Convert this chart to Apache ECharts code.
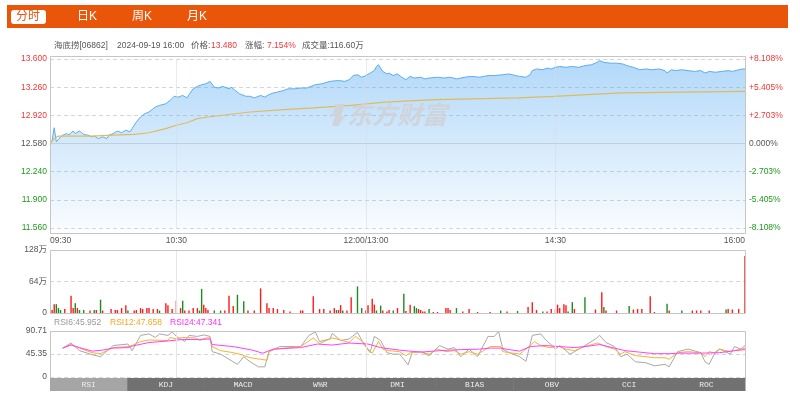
<!DOCTYPE html>
<html><head><meta charset="utf-8">
<script src="https://cdn.jsdelivr.net/npm/echarts@6/dist/echarts.min.js"></script>
<style>html,body{margin:0;padding:0;background:#fff}#c{width:800px;height:400px}</style>
</head><body><div id="c"></div>
<script>
// ---------- data ----------
const stockName = '海底捞';
const stockCode = '06862';
const quoteTime = '2024-09-19 16:00';
const lastPrice = '13.480';
const changePct = '7.154%';
const lastVolume = '116.60万';
const prevClose = 12.58;
const periodTabs = ['分时', '日K', '周K', '月K'];
const indicatorTabs = ['RSI', 'KDJ', 'MACD', 'W%R', 'DMI', 'BIAS', 'OBV', 'CCI', 'ROC'];
const timeTickMinutes = [0, 60, 150, 240, 330];
const timeTickLabels = ['09:30', '10:30', '12:00/13:00', '14:30', '16:00'];
const priceMin = 11.56, priceMax = 13.60, priceStep = 0.34;
const volMax = 128, volStep = 64;
const rsiMax = 90.71, rsiStep = 45.355;
const rsiTickLabels = ['0', '45.35', '90.71'];
const rsiLegend = ['RSI6:45.952', 'RSI12:47.658', 'RSI24:47.341'];

// [minute index from 09:30, price]
const pricePts = [[0,12.57],[1,12.62],[2,12.77],[3,12.60],[4,12.63],[5,12.66],[6,12.68],[8,12.70],[9,12.68],[10,12.71],[11,12.73],[12,12.70],[14,12.73],[15,12.71],[16,12.69],[18,12.68],[20,12.66],[21,12.67],[23,12.64],[25,12.66],[27,12.64],[28,12.68],[30,12.70],[32,12.73],[34,12.71],[36,12.74],[38,12.72],[39,12.76],[41,12.84],[43,12.90],[45,12.94],[47,12.96],[50,13.02],[52,13.04],[55,13.06],[57,13.10],[59,13.15],[61,13.14],[63,13.16],[65,13.13],[66,13.17],[68,13.24],[70,13.27],[72,13.29],[74,13.30],[76,13.33],[78,13.26],[80,13.25],[82,13.27],[85,13.24],[86,13.26],[88,13.22],[90,13.18],[93,13.15],[95,13.15],[97,13.13],[100,13.16],[102,13.14],[104,13.17],[106,13.19],[108,13.20],[111,13.22],[113,13.24],[116,13.24],[119,13.25],[122,13.25],[126,13.29],[129,13.30],[133,13.33],[137,13.34],[140,13.33],[142,13.35],[144,13.40],[146,13.41],[148,13.38],[150,13.40],[152,13.43],[154,13.46],[155,13.51],[156,13.53],[158,13.45],[160,13.42],[161,13.43],[163,13.40],[165,13.42],[167,13.38],[169,13.35],[171,13.39],[173,13.37],[176,13.38],[178,13.36],[180,13.37],[184,13.38],[187,13.37],[190,13.38],[193,13.36],[197,13.38],[200,13.39],[204,13.38],[208,13.40],[211,13.40],[215,13.41],[218,13.42],[221,13.40],[223,13.39],[226,13.38],[228,13.41],[229,13.46],[231,13.48],[234,13.47],[236,13.49],[238,13.48],[240,13.50],[242,13.51],[245,13.50],[248,13.51],[251,13.50],[254,13.52],[257,13.53],[259,13.55],[261,13.58],[263,13.56],[266,13.55],[269,13.55],[272,13.54],[274,13.52],[277,13.50],[280,13.47],[283,13.48],[286,13.47],[289,13.48],[292,13.46],[293,13.43],[295,13.47],[297,13.46],[300,13.47],[303,13.46],[306,13.45],[309,13.46],[311,13.43],[313,13.45],[316,13.44],[319,13.45],[322,13.46],[324,13.45],[327,13.47],[329,13.48],[330,13.48]];

const avgPts = [[0,12.58],[2,12.64],[4,12.67],[20,12.67],[30,12.68],[40,12.69],[47,12.71],[55,12.76],[60,12.80],[65,12.83],[70,12.88],[75,12.90],[85,12.93],[95,12.96],[111,12.99],[125,13.01],[143,13.04],[159,13.08],[183,13.11],[222,13.13],[239,13.15],[271,13.19],[300,13.20],[330,13.21]];

// volume, 万 shares: up minutes (red) / down minutes (green)
const volUp = [[1,6],[2,18],[7,8],[10,35],[11,10],[13,10],[19,5],[22,6],[25,5],[29,8],[31,6],[32,6],[34,10],[36,16],[40,5],[41,6],[43,10],[44,8],[46,10],[47,10],[49,8],[51,8],[55,20],[56,16],[58,8],[60,25],[62,10],[64,5],[66,5],[68,10],[70,10],[73,17],[74,10],[75,6],[83,5],[85,35],[87,14],[94,5],[97,5],[100,50],[103,20],[104,10],[106,10],[108,8],[111,6],[114,3],[119,5],[120,5],[125,34],[128,8],[130,8],[133,5],[135,10],[137,6],[138,16],[141,5],[143,32],[150,5],[151,16],[153,29],[154,17],[158,5],[160,3],[161,6],[165,10],[169,4],[171,17],[175,8],[176,6],[177,3],[178,3],[182,2],[184,2],[188,10],[189,10],[190,6],[196,3],[199,8],[203,2],[209,2],[217,3],[227,12],[229,22],[231,6],[236,3],[238,8],[240,8],[241,17],[242,10],[244,18],[245,16],[249,8],[259,7],[262,42],[264,5],[269,5],[277,7],[279,8],[281,8],[285,34],[287,2],[294,5],[305,5],[307,5],[309,5],[313,5],[322,8],[324,7],[327,8],[330,116]];
const volDown = [[3,18],[4,10],[5,6],[12,20],[14,6],[16,6],[21,6],[24,27],[37,5],[52,5],[63,25],[71,5],[72,49],[78,5],[81,5],[89,37],[92,24],[136,6],[139,5],[146,54],[148,10],[155,5],[157,15],[163,5],[168,39],[173,14],[174,10],[180,8],[193,10],[214,5],[222,4],[234,3],[246,3],[248,22],[254,32],[263,12],[275,14],[293,19],[300,5],[321,7]];

const rsi6 = [[6,57],[10,67],[14,52],[20,44],[24,40],[30,62],[37,65],[39,52],[43,82],[47,85],[50,78],[52,85],[56,82],[58,89],[60,80],[64,70],[66,82],[70,80],[73,83],[76,80],[77,50],[81,45],[85,35],[89,25],[92,40],[95,30],[99,20],[102,20],[104,50],[109,60],[119,60],[123,82],[126,89],[128,70],[133,75],[134,86],[138,72],[142,75],[146,88],[149,65],[152,48],[154,80],[157,72],[160,48],[163,45],[166,45],[168,35],[170,24],[172,48],[176,50],[180,42],[185,62],[189,55],[192,58],[195,40],[199,55],[203,40],[208,80],[211,80],[213,90],[215,55],[218,48],[223,40],[226,31],[228,65],[229,82],[233,85],[235,75],[240,55],[242,62],[247,45],[254,62],[259,75],[261,82],[264,68],[268,60],[271,40],[274,45],[278,30],[283,28],[287,22],[292,25],[294,20],[298,50],[303,55],[309,48],[311,30],[313,25],[316,50],[318,55],[323,45],[325,60],[328,55],[330,62]];
const rsi12 = [[6,57],[10,64],[14,57],[20,48],[24,46],[30,58],[37,60],[39,62],[43,70],[47,73],[56,72],[57,78],[60,75],[63,78],[69,77],[71,72],[74,77],[76,77],[77,60],[81,52],[87,48],[90,45],[95,38],[100,35],[103,33],[104,50],[107,55],[119,60],[125,77],[128,66],[134,77],[138,73],[142,68],[145,80],[149,68],[151,55],[153,47],[156,70],[158,55],[161,52],[166,50],[169,42],[171,48],[176,50],[180,45],[184,55],[188,50],[192,52],[195,45],[199,50],[203,45],[209,60],[214,60],[215,50],[218,48],[223,45],[228,62],[230,70],[233,62],[237,58],[242,60],[245,55],[249,52],[254,60],[260,67],[264,60],[268,55],[271,45],[273,50],[278,42],[283,40],[287,38],[292,38],[294,35],[298,48],[303,50],[309,48],[311,40],[313,50],[316,47],[318,55],[323,50],[328,55],[330,57]];
const rsi24 = [[6,57],[10,63],[14,58],[20,51],[25,53],[30,57],[37,58],[39,61],[47,68],[56,71],[63,74],[71,74],[76,75],[77,64],[87,60],[96,53],[101,47],[106,55],[119,58],[127,65],[134,63],[142,67],[151,65],[157,58],[166,53],[176,49],[185,52],[195,54],[204,55],[209,57],[214,57],[218,54],[223,51],[228,60],[235,62],[242,60],[249,58],[256,61],[261,64],[264,61],[268,57],[273,52],[280,49],[287,46],[294,46],[299,47],[309,47],[318,48],[325,52],[330,54]];

// ---------- layout / style ----------
const FONT = '"Liberation Sans","Noto Sans CJK SC",sans-serif';
const RED = '#f23636', GREEN = '#1f9a1f', GRAY = '#555';
const L = 50, R = 745, W = R - L;
const lastMinute = timeTickMinutes[timeTickMinutes.length - 1];

function priceColor(v) {
  if (Math.abs(v - prevClose) < 1e-6) return GRAY;
  return v > prevClose ? RED : GREEN;
}
const vLines = timeTickMinutes.slice(1, -1).map(m => ({ xAxis: m }));
const vLineStyle = { color: '#e6e6e6', width: 1, type: 'solid' };
const markV = { silent: true, symbol: ['none', 'none'], label: { show: false }, lineStyle: vLineStyle, data: vLines, animation: false };

const xBase = (gi, showLabel) => ({
  type: 'value', gridIndex: gi, min: 0, max: lastMinute, interval: 30,
  axisLine: { show: false }, axisTick: { show: false }, splitLine: { show: false },
  axisLabel: showLabel ? {
    show: true, margin: 8, color: GRAY, fontSize: 8.5, fontFamily: FONT,
    alignMinLabel: 'left', alignMaxLabel: 'right',
    formatter: v => { const i = timeTickMinutes.indexOf(v); return i >= 0 ? timeTickLabels[i] : ''; }
  } : { show: false }
});
const dashed = { show: true, lineStyle: { color: '#d6d6d6', type: [4, 3], width: 1 } };

const graphics = [];
// top orange bar + tabs
graphics.push({ type: 'rect', shape: { x: 7, y: 5, width: 781, height: 23 }, style: { fill: '#e9560a' }, silent: true });
graphics.push({ type: 'rect', shape: { x: 11, y: 10, width: 35, height: 14, r: 3 }, style: { fill: '#fff' }, silent: true });
const tabX = [28, 87, 142, 197];
periodTabs.forEach((t, i) => graphics.push({ type: 'text', x: tabX[i], y: 17, style: { text: t, fill: i === 0 ? '#e9560a' : '#fff', fontSize: 12, fontFamily: FONT, textAlign: 'center', textVerticalAlign: 'middle' }, silent: true }));
// header line
const hdr = [
  [54, stockName + '[' + stockCode + ']', GRAY],
  [117, quoteTime, GRAY],
  [191, '价格:', GRAY],
  [211, lastPrice, RED],
  [245, '涨幅:', GRAY],
  [267, changePct, RED],
  [302, '成交量:' + lastVolume, GRAY]
];
hdr.forEach(h => graphics.push({ type: 'text', x: h[0], y: 46, style: { text: h[1], fill: h[2], fontSize: 8.5, fontFamily: FONT, textVerticalAlign: 'middle' }, silent: true }));
// panel borders
[[56, 233], [250, 313], [331, 378]].forEach(b => graphics.push({ type: 'rect', z: 50, shape: { x: L + 0.5, y: b[0] + 0.5, width: W, height: b[1] - b[0] }, style: { fill: 'none', stroke: '#c6c6c6', lineWidth: 1 }, silent: true }));
// watermark
graphics.push({ type: 'text', z: 40, x: 347, y: 114, style: { text: '东方财富', fill: 'rgba(208,211,216,0.95)', fontSize: 25, fontWeight: 'bold', fontStyle: 'italic', fontFamily: '"Noto Sans CJK SC",sans-serif', textVerticalAlign: 'middle' }, silent: true });
graphics.push({ type: 'polygon', z: 40, shape: { points: [[336, 104], [345, 104], [341, 116], [345, 116], [338, 126], [332, 126], [335, 116], [332, 116]] }, style: { fill: 'rgba(208,211,216,0.95)' }, silent: true });
// RSI legend
const legX = [54, 110, 170], legC = ['#999', '#f5a623', '#ff33ff'];
rsiLegend.forEach((t, i) => graphics.push({ type: 'text', x: legX[i], y: 323, style: { text: t, fill: legC[i], fontSize: 8.5, fontFamily: FONT, textVerticalAlign: 'middle' }, silent: true }));
// indicator tab bar
const tabW = W / indicatorTabs.length;
indicatorTabs.forEach((t, i) => {
  graphics.push({ type: 'rect', z: 60, shape: { x: L + i * tabW, y: 378, width: tabW + 0.5, height: 13 }, style: { fill: i === 0 ? '#a5a5a5' : '#717171' }, silent: true });
  graphics.push({ type: 'text', z: 61, x: L + i * tabW + tabW / 2, y: 384.5, style: { text: t, fill: '#eee', fontSize: 8, fontFamily: '"Liberation Mono",monospace', textAlign: 'center', textVerticalAlign: 'middle' }, silent: true });
});

const option = {
  backgroundColor: '#fff',
  animation: false,
  textStyle: { fontFamily: FONT },
  grid: [
    { left: L, width: W, top: 59, height: 169 },
    { left: L, width: W, top: 250, height: 63 },
    { left: L, width: W, top: 331, height: 46 }
  ],
  xAxis: [xBase(0, true), xBase(1, false), xBase(2, false)],
  yAxis: [
    { type: 'value', gridIndex: 0, min: priceMin, max: priceMax, interval: priceStep,
      axisLine: { show: false }, axisTick: { show: false }, splitLine: dashed,
      axisLabel: { margin: 3, fontSize: 8.5, fontFamily: FONT, color: v => priceColor(v), formatter: v => v.toFixed(3) } },
    { type: 'value', gridIndex: 0, position: 'right', min: priceMin, max: priceMax, interval: priceStep,
      axisLine: { show: false }, axisTick: { show: false }, splitLine: { show: false },
      axisLabel: { margin: 4, fontSize: 8.5, fontFamily: FONT, color: v => priceColor(v),
        formatter: v => { const p = (v - prevClose) / prevClose * 100; if (Math.abs(p) < 1e-6) return '0.000%'; return (p > 0 ? '+' : '') + p.toFixed(3) + '%'; } } },
    { type: 'value', gridIndex: 1, min: 0, max: volMax, interval: volStep,
      axisLine: { show: false }, axisTick: { show: false }, splitLine: dashed,
      axisLabel: { margin: 3, fontSize: 8.5, fontFamily: FONT, color: GRAY, formatter: v => v === 0 ? '0' : v + '万' } },
    { type: 'value', gridIndex: 2, min: 0, max: rsiMax, interval: rsiStep,
      axisLine: { show: false }, axisTick: { show: false }, splitLine: dashed,
      axisLabel: { margin: 3, fontSize: 8.5, fontFamily: FONT, color: GRAY, formatter: (v, i) => rsiTickLabels[i] } }
  ],
  series: [
    { type: 'line', xAxisIndex: 0, yAxisIndex: 0, data: pricePts, showSymbol: false, silent: true,
      lineStyle: { color: '#5cadef', width: 1 },
      areaStyle: { color: new echarts.graphic.LinearGradient(0, 0, 0, 1, [
        { offset: 0, color: 'rgba(66,160,240,0.58)' },
        { offset: 1, color: 'rgba(66,160,240,0.05)' }]) },
      markLine: { silent: true, symbol: ['none', 'none'], label: { show: false }, animation: false,
        data: vLines.map(d => Object.assign({ lineStyle: { color: 'rgba(215,218,222,0.55)', width: 1, type: 'solid' } }, d))
          .concat([{ yAxis: prevClose, lineStyle: { color: '#bfcfdf', width: 1, type: 'solid' } }]) } },
    { type: 'line', xAxisIndex: 0, yAxisIndex: 0, data: avgPts, showSymbol: false, silent: true,
      lineStyle: { color: '#dfbb5e', width: 1.2 } },
    { type: 'bar', xAxisIndex: 1, yAxisIndex: 2, data: volUp, barWidth: 1.4, silent: true, itemStyle: { color: '#ff1a1a' }, markLine: markV },
    { type: 'bar', xAxisIndex: 1, yAxisIndex: 2, data: volDown, barWidth: 1.4, barGap: '-100%', silent: true, itemStyle: { color: '#1c8c1c' } },
    { type: 'line', xAxisIndex: 2, yAxisIndex: 3, data: rsi6, showSymbol: false, silent: true, lineStyle: { color: '#a8a8a8', width: 1 }, markLine: markV },
    { type: 'line', xAxisIndex: 2, yAxisIndex: 3, data: rsi12, showSymbol: false, silent: true, lineStyle: { color: '#f7b330', width: 1 } },
    { type: 'line', xAxisIndex: 2, yAxisIndex: 3, data: rsi24, showSymbol: false, silent: true, lineStyle: { color: '#ff40ff', width: 1 } }
  ],
  graphic: graphics
};
const chart = echarts.init(document.getElementById('c'));
chart.setOption(option);
</script>
</body></html>
